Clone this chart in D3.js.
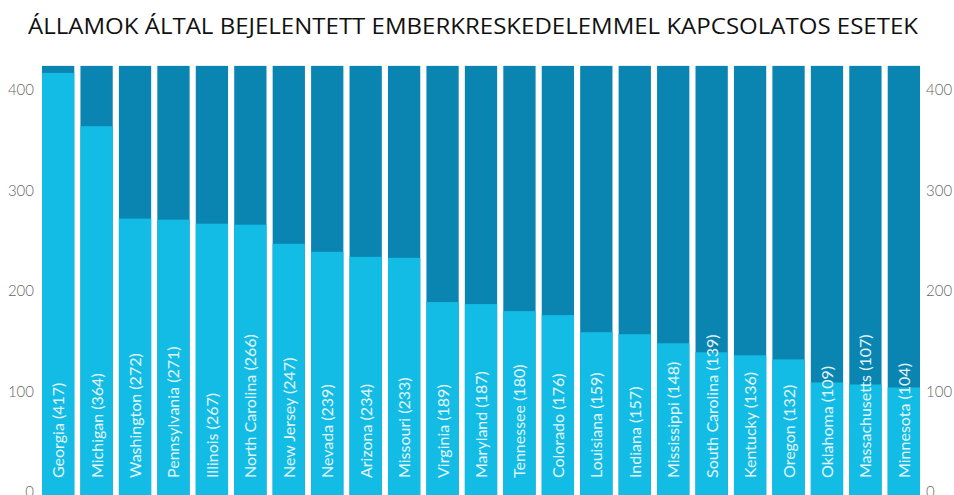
<!DOCTYPE html>
<html>
<head>
<meta charset="utf-8">
<script src="https://cdn.jsdelivr.net/npm/d3@7"></script>
<style>
  body { margin: 0; background: #fff; }
  svg { display: block; }
</style>
</head>
<body>
<div id="chart"></div>
<script>
var states = ['Georgia', 'Michigan', 'Washington', 'Pennsylvania', 'Illinois', 'North Carolina',
    'New Jersey', 'Nevada', 'Arizona', 'Missouri', 'Virginia', 'Maryland', 'Tennessee',
    'Colorado', 'Louisiana', 'Indiana', 'Mississippi', 'South Carolina', 'Kentucky',
    'Oregon', 'Oklahoma', 'Massachusetts', 'Minnesota'];
var cases = [417, 364, 272, 271, 267, 266, 247, 239, 234, 233, 189, 187, 180,
    176, 159, 157, 148, 139, 136, 132, 109, 107, 104];
var bgValue = 424;
var yTicks = [0, 100, 200, 300, 400];

var width = 954, height = 495;

var svg = d3.select('#chart').append('svg')
    .attr('width', width)
    .attr('height', height);

svg.append('text')
    .attr('x', 28)
    .attr('y', 34)
    .attr('textLength', 890)
    .attr('lengthAdjust', 'spacingAndGlyphs')
    .style('font-family', '"Liberation Sans Narrow", "Open Sans", sans-serif')
    .style('font-size', '22px')
    .style('fill', '#111')
    .text('ÁLLAMOK ÁLTAL BEJELENTETT EMBERKRESKEDELEMMEL KAPCSOLATOS ESETEK');

var x = d3.scaleBand()
    .domain(states)
    .range([42, 920])
    .paddingInner(0.16)
    .paddingOuter(0);

var y = d3.scaleLinear()
    .domain([0, 400])
    .range([492, 90]);

var rows = states.map(function(s, i) { return { name: s, value: cases[i] }; });

// dark background bars
svg.append('g').selectAll('rect')
    .data(rows)
    .enter()
    .append('rect')
    .attr('x', d => x(d.name))
    .attr('width', x.bandwidth())
    .attr('y', y(bgValue))
    .attr('height', y(0) - y(bgValue) + 5)
    .attr('fill', '#0a85b1');

// value bars
svg.append('g').selectAll('rect')
    .data(rows)
    .enter()
    .append('rect')
    .attr('x', d => x(d.name))
    .attr('width', x.bandwidth())
    .attr('y', d => y(d.value))
    .attr('height', d => y(0) - y(d.value) + 5)
    .attr('fill', '#12bce4');

// labels inside bars
svg.append('g').selectAll('text')
    .data(rows)
    .enter()
    .append('text')
    .attr('transform', d => 'translate(' + (x(d.name) + x.bandwidth() / 2 + 6) + ',478) rotate(-90)')
    .style('font-family', 'Lato, sans-serif')
    .style('font-size', '16px')
    .style('fill', '#e3f5fb')
    .text(d => d.name + ' (' + d.value + ')');

var axisL = d3.axisLeft(y).tickValues(yTicks).tickSize(0).tickPadding(4);
var axisR = d3.axisRight(y).tickValues(yTicks).tickSize(0).tickPadding(4);

var gL = svg.append('g')
    .attr('transform', 'translate(38,0)')
    .call(axisL);
var gR = svg.append('g')
    .attr('transform', 'translate(922,0)')
    .call(axisR);

[gL, gR].forEach(function(g) {
    g.select('.domain').remove();
    g.selectAll('text')
        .style('font-family', 'Lato, sans-serif')
        .style('font-weight', 300)
        .style('font-size', '15px')
        .style('fill', '#666');
});
</script>
</body>
</html>
